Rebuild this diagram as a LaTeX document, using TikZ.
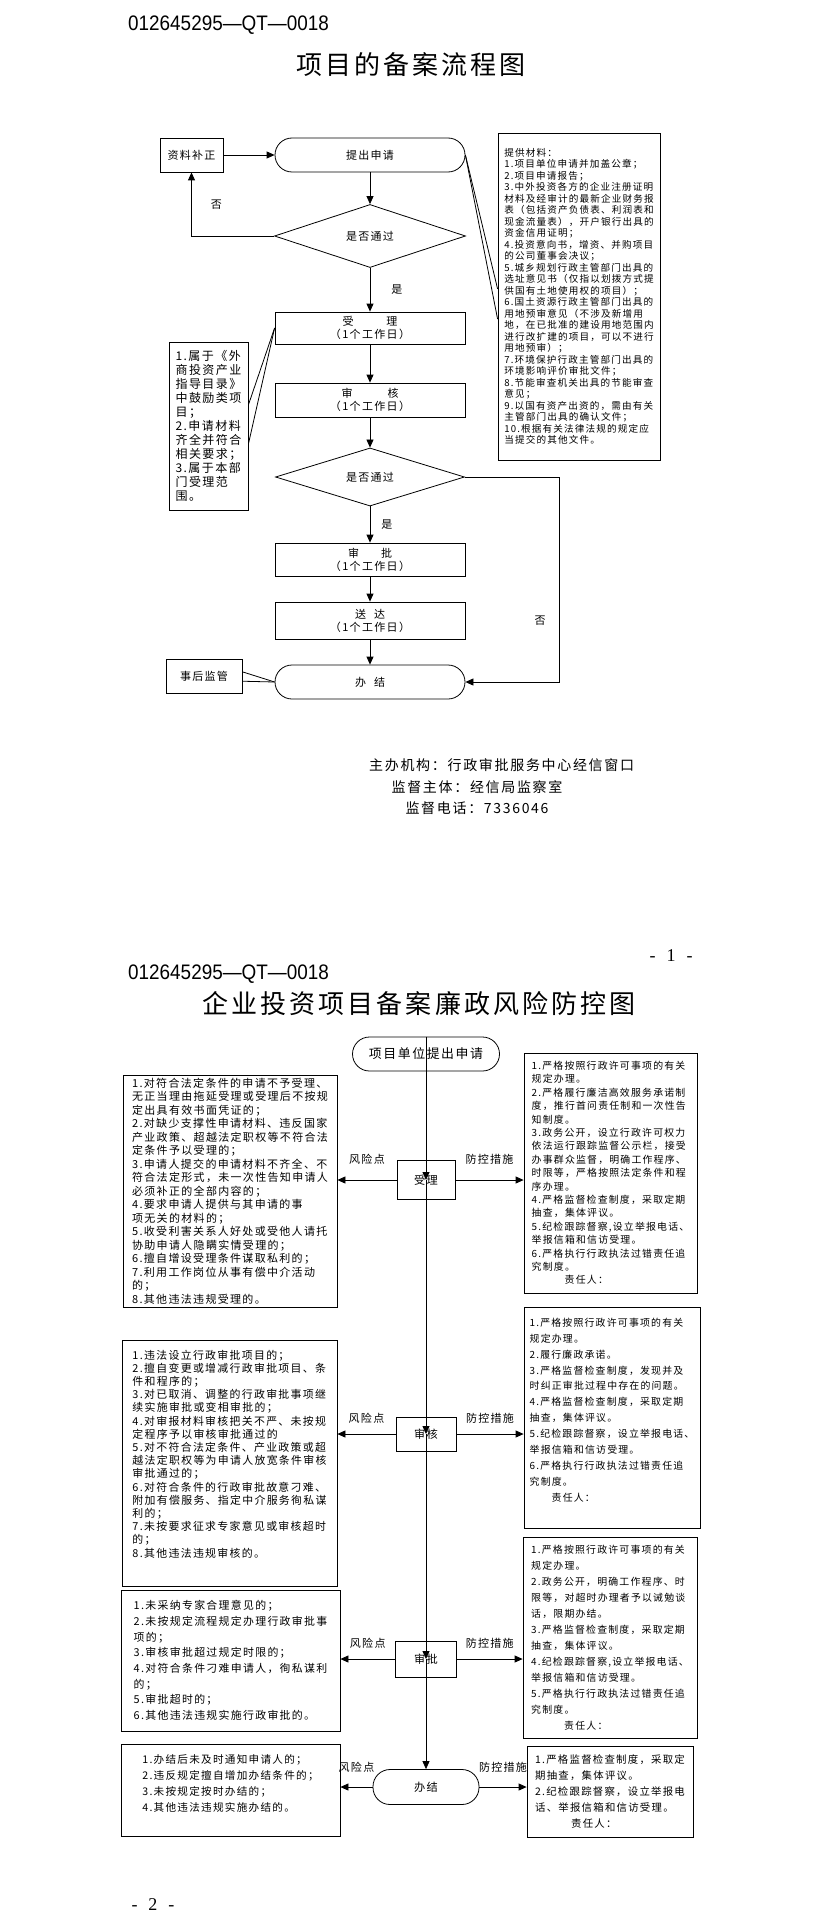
\documentclass[tikz,border=0pt]{standalone}
\usepackage{fontspec}
\setmainfont[LetterSpace=12]{Noto Sans CJK SC}
\newfontfamily\headfont[FakeStretch=0.9]{Liberation Sans}
\newfontfamily\pagefont{Liberation Serif}
\usetikzlibrary{arrows.meta,positioning,shapes.geometric,calc}
\newcommand{\setfs}[2]{\fontsize{#1}{#2}\selectfont}
\tikzset{
  % flow steps
  stepbox/.style={draw, rectangle, line width=0.8pt, align=center, inner sep=0pt, font=\setfs{11}{13}},
  termbox/.style={stepbox, rounded corners=17pt},
  decide/.style={draw, diamond, line width=0.8pt, inner sep=0pt, font=\setfs{11}{13}},
  % text boxes beside the flow
  notebox/.style={draw, rectangle, line width=0.8pt, align=left, inner sep=0pt},
  % connectors
  flowarr/.style={-{Triangle[length=8pt,width=7pt]}, line width=0.8pt},
  leader/.style={line width=0.8pt},
  lbl/.style={font=\setfs{11}{13}, inner sep=1pt},
  % page furniture
  headline/.style={font=\headfont\setfs{21}{24}, anchor=west, inner sep=0pt},
  titleline/.style={font=\setfs{26}{30}, inner sep=0pt},
  pagenum/.style={font=\pagefont\setfs{18}{20}, inner sep=0pt}
}
\begin{document}
\begin{tikzpicture}[x=1pt, y=-1pt]
\useasboundingbox (0,0) rectangle (823,1926);

% ============== PAGE 1: filing flow ==============
\node[headline] (code1) at (128,25) {012645295—QT—0018};
\node[titleline] (title1) at (411,65) {项目的备案流程图};

\node[termbox, minimum width=190pt, minimum height=34pt] (tichu) at (370,155) {提出申请};
\node[stepbox, minimum width=63pt, minimum height=34pt] (buzheng) at (191.5,155) {资料补正};
\node[decide, minimum width=191pt, minimum height=63pt] (pass1) at (370,236) {是否通过};
\node[stepbox, minimum width=190pt, minimum height=32pt] (shouli) at (370,328) {受\hspace{33pt}理\\（1个工作日）};
\node[stepbox, minimum width=190pt, minimum height=34pt] (shenhe) at (370,400) {审\hspace{35pt}核\\（1个工作日）};
\node[decide, minimum width=189pt, minimum height=47pt] (pass2) at (370,477) {是否通过};
\node[stepbox, minimum width=190pt, minimum height=33pt] (shenpi) at (370,559.5) {审\hspace{22pt}批\\（1个工作日）};
\node[stepbox, minimum width=190pt, minimum height=37pt] (songda) at (370,620.5) {送\hspace{8pt}达\\（1个工作日）};
\node[termbox, minimum width=190pt, minimum height=34pt] (banjie) at (370,682) {办\hspace{8pt}结};
\node[stepbox, minimum width=76pt, minimum height=34pt] (shihou) at (204,676) {事后监管};

\node[notebox, minimum width=162pt, minimum height=327pt, font=\setfs{9.6}{11.5}] (cailiao) at (579,296.5)
  {提供材料：\\1.项目单位申请并加盖公章；\\2.项目申请报告；\\3.中外投资各方的企业注册证明\\材料及经审计的最新企业财务报\\表（包括资产负债表、利润表和\\现金流量表），开户银行出具的\\资金信用证明；\\4.投资意向书，增资、并购项目\\的公司董事会决议；\\5.城乡规划行政主管部门出具的\\选址意见书（仅指以划拨方式提\\供国有土地使用权的项目）；\\6.国土资源行政主管部门出具的\\用地预审意见（不涉及新增用\\地，在已批准的建设用地范围内\\进行改扩建的项目，可以不进行\\用地预审）；\\7.环境保护行政主管部门出具的\\环境影响评价审批文件；\\8.节能审查机关出具的节能审查\\意见；\\9.以国有资产出资的，需由有关\\主管部门出具的确认文件；\\10.根据有关法律法规的规定应\\当提交的其他文件。};
\node[notebox, minimum width=79pt, minimum height=168pt, font=\setfs{12}{14}] (tiaojian) at (208.5,426)
  {1.属于《外\\商投资产业\\指导目录》\\中鼓励类项\\目；\\2.申请材料\\齐全并符合\\相关要求；\\3.属于本部\\门受理范\\围。};

\draw[flowarr] (buzheng.east) -- (tichu.west);
\draw[flowarr] (tichu.south) -- (pass1.north);
\draw[flowarr] (pass1.west) -| node[lbl, pos=0.75, right=18pt] {否} (buzheng.south);
\draw[flowarr] (pass1.south) -- node[lbl, right=20pt] {是} (shouli.north);
\draw[flowarr] (shouli.south) -- (shenhe.north);
\draw[flowarr] (shenhe.south) -- (pass2.north);
\draw[flowarr] (pass2.south) -- node[lbl, right=10pt] {是} (shenpi.north);
\draw[flowarr] (shenpi.south) -- (songda.north);
\draw[flowarr] (songda.south) -- (banjie.north);
\coordinate (fouturn) at (559,477);
\draw[flowarr] (pass2.east) -- (fouturn) |- node[lbl, pos=0.35, left=12pt] {否} (banjie.east);

% callout leaders
\draw[leader] (tichu.east) -- ($(cailiao.north west)!0.477!(cailiao.south west)$);
\draw[leader] (tichu.east) -- ($(cailiao.north west)!0.569!(cailiao.south west)$);
\draw[leader] (shouli.west) -- ($(tiaojian.north east)!0.375!(tiaojian.south east)$);
\draw[leader] (shouli.west) -- ($(tiaojian.north east)!0.607!(tiaojian.south east)$);
\draw[leader] (banjie.west) -- ($(shihou.north east)!0.38!(shihou.south east)$);
\draw[leader] (banjie.west) -- ($(shihou.north east)!0.65!(shihou.south east)$);

\node[lbl, font=\setfs{14}{16}, anchor=west] (zhuban) at (368,765) {主办机构：行政审批服务中心经信窗口};
\node[lbl, font=\setfs{14}{16}] (jiandu) at (477,787) {监督主体：经信局监察室};
\node[lbl, font=\setfs{14}{16}] (dianhua) at (477,808) {监督电话：7336046};

% ============== PAGE 2: risk control chart ==============
\node[pagenum] (pg1) at (671,956) {-\hspace{11pt}1\hspace{11pt}-};
\node[headline] (code2) at (128,974) {012645295—QT—0018};
\node[titleline] (title2) at (419,1004) {企业投资项目备案廉政风险防控图};

\node[termbox, minimum width=147pt, minimum height=34pt, font=\setfs{12.9}{14}] (start2) at (426,1054) {项目单位提出申请};
\node[stepbox, minimum width=58pt, minimum height=39pt, font=\setfs{11.2}{13}] (shouli2) at (426,1180) {受理};
\node[stepbox, minimum width=60pt, minimum height=34pt, font=\setfs{11.2}{13}] (shenhe2) at (426,1434) {审核};
\node[stepbox, minimum width=61pt, minimum height=36pt, font=\setfs{11.2}{13}] (shenpi2) at (426,1659) {审批};
\node[termbox, minimum width=106pt, minimum height=35pt, font=\setfs{11.2}{13}] (banjie2) at (426,1787) {办结};

% risk points (left)
\node[notebox, minimum width=214pt, minimum height=232pt, font=\setfs{11}{13.5}] (risk1) at (230,1191)
  {1.对符合法定条件的申请不予受理、\\无正当理由拖延受理或受理后不按规\\定出具有效书面凭证的；\\2.对缺少支撑性申请材料、违反国家\\产业政策、超越法定职权等不符合法\\定条件予以受理的；\\3.申请人提交的申请材料不齐全、不\\符合法定形式，未一次性告知申请人\\必须补正的全部内容的；\\4.要求申请人提供与其申请的事\\项无关的材料的；\\5.收受利害关系人好处或受他人请托\\协助申请人隐瞒实情受理的；\\6.擅自增设受理条件谋取私利的；\\7.利用工作岗位从事有偿中介活动\\的；\\8.其他违法违规受理的。};
\node[notebox, minimum width=215pt, minimum height=246pt, font=\setfs{10.9}{13.2}] (risk2) at (229.5,1463)
  {1.违法设立行政审批项目的；\\2.擅自变更或增减行政审批项目、条\\件和程序的；\\3.对已取消、调整的行政审批事项继\\续实施审批或变相审批的；\\4.对审报材料审核把关不严、未按规\\定程序予以审核审批通过的\\5.对不符合法定条件、产业政策或超\\越法定职权等为申请人放宽条件审核\\审批通过的；\\6.对符合条件的行政审批故意刁难、\\附加有偿服务、指定中介服务徇私谋\\利的；\\7.未按要求征求专家意见或审核超时\\的；\\8.其他违法违规审核的。\\[6pt]\mbox{}};
\node[notebox, minimum width=219pt, minimum height=141pt, font=\setfs{10.9}{15.7}] (risk3) at (230.5,1660.5)
  {1.未采纳专家合理意见的；\\2.未按规定流程规定办理行政审批事\\项的；\\3.审核审批超过规定时限的；\\4.对符合条件刁难申请人，徇私谋利\\的；\\5.审批超时的；\\6.其他违法违规实施行政审批的。};
\node[notebox, minimum width=219pt, minimum height=92pt, font=\setfs{10.6}{16}] (risk4) at (230.5,1790)
  {1.办结后未及时通知申请人的；\\2.违反规定擅自增加办结条件的；\\3.未按规定按时办结的；\\4.其他违法违规实施办结的。\\[-2pt]\mbox{}};

% control measures (right)
\node[notebox, minimum width=173pt, minimum height=240pt, font=\setfs{9.9}{13.4}] (ctrl1) at (610.5,1173)
  {1.严格按照行政许可事项的有关\\规定办理。\\2.严格履行廉洁高效服务承诺制\\度，推行首问责任制和一次性告\\知制度。\\3.政务公开，设立行政许可权力\\依法运行跟踪监督公示栏，接受\\办事群众监督，明确工作程序、\\时限等，严格按照法定条件和程\\序办理。\\4.严格监督检查制度，采取定期\\抽查，集体评议。\\5.纪检跟踪督察,设立举报电话、\\举报信箱和信访受理。\\6.严格执行行政执法过错责任追\\究制度。\\\hspace*{33pt}责任人：};
\node[notebox, minimum width=176pt, minimum height=221pt, font=\setfs{9.9}{15.9}] (ctrl2) at (612,1417.5)
  {1.严格按照行政许可事项的有关\\规定办理。\\2.履行廉政承诺。\\3.严格监督检查制度，发现并及\\时纠正审批过程中存在的问题。\\4.严格监督检查制度，采取定期\\抽查，集体评议。\\5.纪检跟踪督察，设立举报电话、\\举报信箱和信访受理。\\6.严格执行行政执法过错责任追\\究制度。\\\hspace*{22pt}责任人：\\\mbox{}};
\node[notebox, minimum width=174pt, minimum height=201pt, font=\setfs{9.9}{16}] (ctrl3) at (610,1637.5)
  {1.严格按照行政许可事项的有关\\规定办理。\\2.政务公开，明确工作程序、时\\限等，对超时办理者予以诫勉谈\\话，限期办结。\\3.严格监督检查制度，采取定期\\抽查，集体评议。\\4.纪检跟踪督察,设立举报电话、\\举报信箱和信访受理。\\5.严格执行行政执法过错责任追\\究制度。\\\hspace*{33pt}责任人：};
\node[notebox, minimum width=166pt, minimum height=91pt, font=\setfs{10.4}{16}] (ctrl4) at (610,1791.5)
  {1.严格监督检查制度，采取定\\期抽查，集体评议。\\2.纪检跟踪督察，设立举报电\\话、举报信箱和信访受理。\\\hspace*{36pt}责任人：};

% main line through the steps
\draw[flowarr] (start2.north) -- (shouli2.center);
\draw[flowarr] (shouli2.center) -- (shenhe2.center);
\draw[flowarr] (shenhe2.center) -- (shenpi2.center);
\draw[flowarr] (shenpi2.center) -- (banjie2.north);

% risk point / control measure arrows
\draw[flowarr] (shouli2.west) -- node[lbl, above=14pt] {风险点} (shouli2.west -| risk1.east);
\draw[flowarr] (shouli2.east) -- node[lbl, above=14pt] {防控措施} (shouli2.east -| ctrl1.west);
\draw[flowarr] (shenhe2.west) -- node[lbl, above=9pt] {风险点} (shenhe2.west -| risk2.east);
\draw[flowarr] (shenhe2.east) -- node[lbl, above=9pt] {防控措施} (shenhe2.east -| ctrl2.west);
\draw[flowarr] (shenpi2.west) -- node[lbl, above=9pt] {风险点} (shenpi2.west -| risk3.east);
\draw[flowarr] (shenpi2.east) -- node[lbl, above=9pt] {防控措施} (shenpi2.east -| ctrl3.west);
\draw[flowarr] (banjie2.west) -- node[lbl, above=13pt] {风险点} (banjie2.west -| risk4.east);
\draw[flowarr] (banjie2.east) -- node[lbl, above=13pt] {防控措施} (banjie2.east -| ctrl4.west);

\node[pagenum] (pg2) at (153,1905) {-\hspace{11pt}2\hspace{11pt}-};

\end{tikzpicture}
\end{document}
